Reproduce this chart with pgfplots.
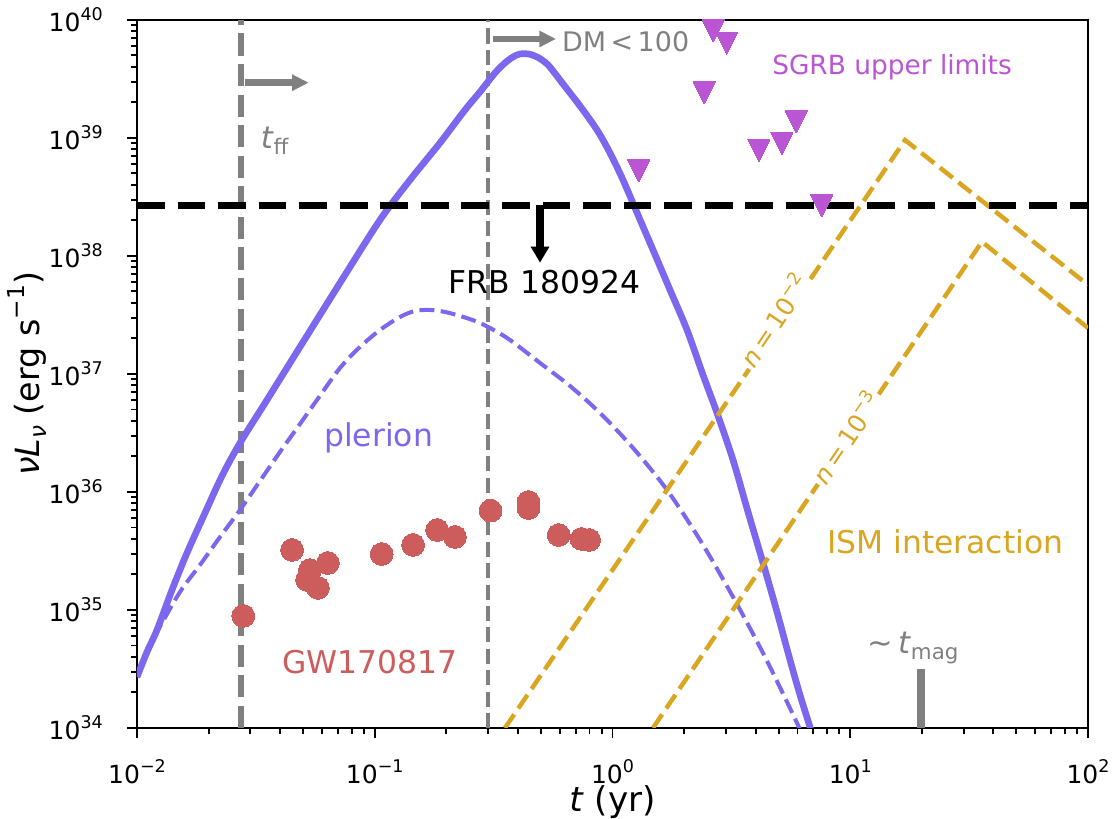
\documentclass[border=0pt]{standalone}
\usepackage{fontspec}
\setmainfont{DejaVu Sans}
\usepackage{graphicx}
\usepackage{pgfplots}
\pgfplotsset{compat=1.18}
\usetikzlibrary{arrows.meta}
\definecolor{mslate}{HTML}{7B68EE}
\definecolor{gwred}{HTML}{CD5C5C}
\definecolor{gold}{HTML}{DAA520}
\definecolor{orchid}{HTML}{BA55D3}
\definecolor{mgray}{HTML}{808080}
\newcommand\sups[1]{\raisebox{0.45em}{\scalebox{0.7}{#1}}}
\newcommand\subs[1]{\raisebox{-0.2em}{\scalebox{0.7}{#1}}}
\newcommand\fs[1]{\fontsize{#1}{#1}\selectfont}
\begin{document}
\begin{tikzpicture}
\begin{axis}[
 scale only axis, width=342.36pt, height=254.88pt,
 xmode=log, ymode=log,
 xmin=0.01, xmax=100, ymin=1e34, ymax=1e40,
 axis line style={line width=0.8pt},
 tick align=outside, xtick pos=left, ytick pos=left,
 major tick length=3.6pt, minor tick length=2pt,
 tick style={black, line width=0.7pt},
 xtick={0.01,0.1,1,10,100},
 xticklabels={10\sups{−2},10\sups{−1},10\sups{0},10\sups{1},10\sups{2}},
 minor xtick={0.02,0.03,0.04,0.05,0.06,0.07,0.08,0.09,0.2,0.3,0.4,0.5,0.6,0.7,0.8,0.9,2,3,4,5,6,7,8,9,20,30,40,50,60,70,80,90},
 ytick={1e34,1e35,1e36,1e37,1e38,1e39,1e40},
 yticklabels={10\sups{34},10\sups{35},10\sups{36},10\sups{37},10\sups{38},10\sups{39},10\sups{40}},
 minor ytick={2e34,3e34,4e34,5e34,6e34,7e34,8e34,9e34,
  2e35,3e35,4e35,5e35,6e35,7e35,8e35,9e35,
  2e36,3e36,4e36,5e36,6e36,7e36,8e36,9e36,
  2e37,3e37,4e37,5e37,6e37,7e37,8e37,9e37,
  2e38,3e38,4e38,5e38,6e38,7e38,8e38,9e38,
  2e39,3e39,4e39,5e39,6e39,7e39,8e39,9e39},
 ticklabel style={font=\fs{9}},
 xticklabel style={inner sep=0pt, anchor=north, yshift=-7.5pt},
 yticklabel style={inner sep=0pt, anchor=east, xshift=-8.5pt},
 xlabel={\textit{t} (yr)},
 ylabel={\textit{ν}\textit{L}\subs{\textit{ν}} (erg s\sups{−1})},
 xlabel style={at={(axis description cs:0.5,-0.104)}, anchor=center, font=\fs{12.3}},
 ylabel style={at={(axis description cs:-0.1157,0.5)}, anchor=center, font=\fs{12}},
 clip=true,
]
% vertical gray lines
\addplot[mgray, line width=2.2pt, dash pattern=on 8pt off 3pt] coordinates {(0.0274,1e34) (0.0274,1e40)};
\addplot[mgray, line width=1.45pt, dash pattern=on 5.4pt off 2.3pt] coordinates {(0.299,1e34) (0.299,1e40)};
% plerion solid
\addplot[mslate, line width=2.4pt, smooth, tension=0.5] coordinates {
(0.01,2.7048e34) (0.011017,4.406e34) (0.012139,6.770e34) (0.014036,1.4772e35) (0.016228,3.0417e35)
(0.019320,6.637e35) (0.022779,1.3666e36) (0.027118,2.6021e36) (0.035218,6.0213e36) (0.048477,1.6934e37)
(0.071420,5.9043e37) (0.10520,2.0189e38) (0.14068,4.406e38) (0.18809,9.072e38) (0.23962,1.7276e39)
(0.27706,2.4537e39) (0.32040,3.5545e39) (0.35297,4.3217e39) (0.38150,4.8594e39) (0.40830,5.1522e39)
(0.44115,5.1522e39) (0.48147,4.8594e39) (0.53557,4.1563e39) (0.61919,2.8678e39) (0.72993,1.8668e39)
(0.86051,1.1690e39) (0.97607,7.463e38) (1.1070,4.406e38) (1.2801,2.2260e38) (1.4805,1.1241e38)
(1.7455,5.152e37) (2.0578,2.3604e37) (2.4025,9.807e36) (2.7514,4.672e36) (3.2128,1.8668e36)
(3.7149,6.768e35) (4.2955,2.5021e35) (4.9190,9.618e34) (5.5797,3.7698e34) (6.1463,1.9045e34)
(6.7704,1.0197e34) (7.0378,7.910e33)};
% plerion dashed
\addplot[mslate, line width=1.45pt, dash pattern=on 5.4pt off 2.3pt, smooth, tension=0.5] coordinates {
(0.01,2.7048e34) (0.011017,4.406e34) (0.012139,6.510e34) (0.015167,1.4210e35) (0.018408,2.4063e35)
(0.022346,4.1563e35) (0.027118,7.040e35) (0.032913,1.2397e36) (0.039946,2.1827e36) (0.048477,3.7698e36)
(0.057149,6.0213e36) (0.071420,1.1240e37) (0.086670,1.6934e37) (0.10520,2.3604e37) (0.12773,3.0417e37)
(0.14767,3.4196e37) (0.17080,3.4868e37) (0.19749,3.3533e37) (0.22838,3.1016e37) (0.26397,2.8128e37)
(0.30531,2.4537e37) (0.37050,1.9420e37) (0.49554,1.2397e37) (0.66237,7.912e36) (0.88607,4.672e36)
(1.2196,2.3604e36) (1.6954,1.0398e36) (2.3337,3.9193e35) (3.2128,1.2890e35) (4.3797,3.9966e34)
(5.9702,1.1024e34) (6.1463,9.250e33)};
% ISM interaction
\addplot[gold, line width=1.6pt, dash pattern=on 5.9pt off 2.6pt] coordinates {
(0.353,1e34) (17.0,9.6e38) (100,5.68e37)};
\addplot[gold, line width=1.6pt, dash pattern=on 5.9pt off 2.6pt] coordinates {
(1.48,1e34) (35.8,1.32e38) (100,2.45e37)};
% FRB limit
\addplot[black, line width=2.6pt, dash pattern=on 10pt off 4.6pt] coordinates {(0.01,2.69e38) (100,2.69e38)};
% t_mag tick
\addplot[mgray, line width=2.9pt] coordinates {(19.85,9e33) (19.85,3.16e34)};
% GW170817
\addplot[only marks, color=gwred, mark=*, mark size=4.1pt, mark options={draw=gwred, fill=gwred, line width=0pt}] coordinates {
(0.0280,8.9e34) (0.0449,3.23e35) (0.0534,2.18e35) (0.0519,1.80e35) (0.0635,2.50e35)
(0.0577,1.54e35) (0.107,2.98e35) (0.145,3.56e35) (0.183,4.76e35) (0.2175,4.16e35)
(0.307,6.95e35) (0.443,8.22e35) (0.443,7.32e35) (0.594,4.32e35) (0.741,4.0e35) (0.798,3.92e35)};
% SGRB upper limits
\addplot[only marks, color=orchid, mark=triangle*, mark size=4.57pt, mark options={rotate=180, yscale=1.155, draw=orchid, fill=orchid, line width=0pt}] coordinates {
(2.65,8.67e39) (3.03,6.85e39) (2.43,2.59e39) (1.29,5.65e38) (4.13,8.34e38)
(5.16,9.57e38) (5.92,1.47e39) (7.60,2.85e38)};
% arrows
\draw[mgray, line width=2.4pt, -{Triangle[length=6pt,width=5.6pt]}] (axis cs:0.02854,2.94e39) -- (axis cs:0.05276,2.94e39);
\draw[mgray, line width=2.4pt, -{Triangle[length=6pt,width=5.6pt]}] (axis cs:0.3152,6.90e39) -- (axis cs:0.5784,6.90e39);
\draw[black, line width=2.6pt, -{Triangle[length=5.8pt,width=6.4pt]}] (axis cs:0.4955,2.69e38) -- (axis cs:0.4955,8.77e37);
% labels
\node[anchor=base west, inner sep=0pt, text=mgray, font=\fs{11}] at (axis cs:0.0330,8.18e38) {\textit{t}\subs{ff}};
\node[anchor=base west, inner sep=0pt, text=mgray, font=\fs{9.7}] at (axis cs:0.611,5.39e39) {DM\,<\,100};
\node[anchor=base west, inner sep=0pt, text=orchid, font=\fs{9.5}] at (axis cs:4.674,3.42e39) {SGRB upper limits};
\node[anchor=base west, inner sep=0pt, text=black, font=\fs{11.3}] at (axis cs:0.2039,4.83e37) {FRB 180924};
\node[anchor=base west, inner sep=0pt, text=mslate, font=\fs{11.3}] at (axis cs:0.0610,2.42e36) {plerion};
\node[anchor=base west, inner sep=0pt, text=gwred, font=\fs{11.3}] at (axis cs:0.04062,2.91e34) {GW170817};
\node[anchor=base west, inner sep=0pt, text=gold, font=\fs{11.3}] at (axis cs:7.96,3.02e35) {ISM interaction};
\node[anchor=base west, inner sep=0pt, text=mgray, font=\fs{11}] at (axis cs:11.73,4.30e34) {∼\,\textit{t}\subs{mag}};
\node[rotate=56, fill=white, inner sep=1pt, text=gold, font=\fs{9}] at (axis cs:4.746,2.87e37) {\textit{n}\,=\,10\sups{−2}};
\node[rotate=56, fill=white, inner sep=1pt, text=gold, font=\fs{9}] at (axis cs:9.50,2.92e36) {\textit{n}\,=\,10\sups{−3}};
\end{axis}
\pgfresetboundingbox
\path[use as bounding box] (-49.32pt,-32.4pt) rectangle (351.0pt,262.08pt);
\end{tikzpicture}
\end{document}
